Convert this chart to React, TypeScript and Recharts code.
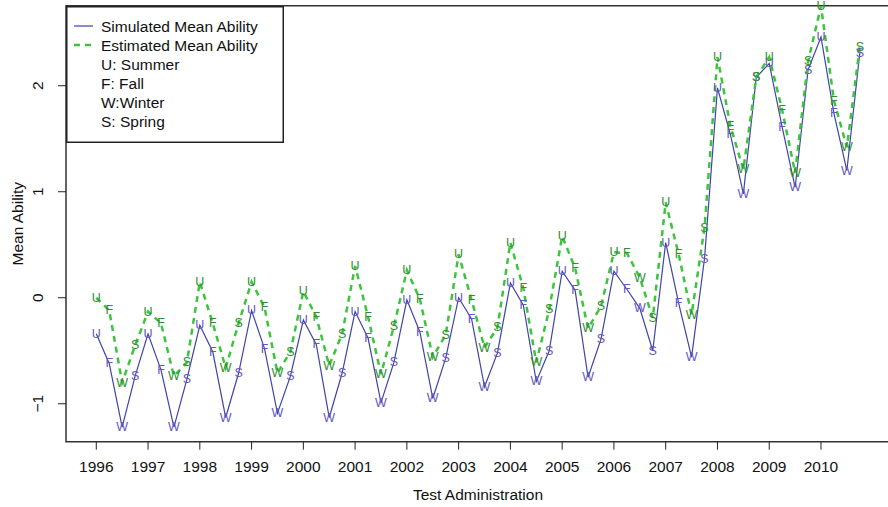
import { LineChart, Line, XAxis, YAxis, Legend, ReferenceArea } from 'recharts'

const years = [1996, 1997, 1998, 1999, 2000, 2001, 2002, 2003, 2004, 2005, 2006, 2007, 2008, 2009, 2010]
const seasons = ['U', 'F', 'W', 'S']

// one row per year: Summer, Fall, Winter, Spring
const simulated = [
  [-0.34, -0.62, -1.22, -0.74],
  [-0.34, -0.68, -1.22, -0.77],
  [-0.26, -0.51, -1.13, -0.71],
  [-0.12, -0.48, -1.09, -0.74],
  [-0.21, -0.44, -1.13, -0.71],
  [-0.13, -0.38, -0.99, -0.61],
  [-0.02, -0.32, -0.95, -0.57],
  [0.0, -0.2, -0.84, -0.52],
  [0.14, -0.07, -0.79, -0.5],
  [0.25, 0.07, -0.75, -0.39],
  [0.25, 0.08, -0.1, -0.5],
  [0.52, -0.05, -0.56, 0.37],
  [1.98, 1.54, 0.98, 2.08],
  [2.21, 1.61, 1.04, 2.15],
  [2.46, 1.74, 1.2, 2.31],
]

const estimated = [
  [0.0, -0.12, -0.8, -0.45],
  [-0.13, -0.24, -0.74, -0.61],
  [0.15, -0.24, -0.66, -0.24],
  [0.15, -0.09, -0.71, -0.51],
  [0.06, -0.18, -0.64, -0.34],
  [0.3, -0.18, -0.72, -0.27],
  [0.26, -0.01, -0.56, -0.35],
  [0.41, -0.02, -0.47, -0.28],
  [0.52, 0.09, -0.61, -0.11],
  [0.58, 0.28, -0.29, -0.08],
  [0.43, 0.42, 0.19, -0.19],
  [0.9, 0.41, -0.16, 0.66],
  [2.27, 1.62, 1.21, 2.08],
  [2.27, 1.77, 1.18, 2.23],
  [2.75, 1.86, 1.42, 2.37],
]

const yTicks = [-1, 0, 1, 2]
const legendItems = ['Simulated Mean Ability', 'Estimated Mean Ability', 'U: Summer', 'F: Fall', 'W:Winter', 'S: Spring']

const data = years.flatMap((yr, i) =>
  seasons.map((s, q) => ({
    t: yr + q * 0.25,
    season: s,
    sim: simulated[i][q],
    est: estimated[i][q],
  }))
)

const FONT = '"Liberation Sans", Arial, Helvetica, sans-serif'
const X_DOMAIN = [1995.415, 2011.333]
const Y_DOMAIN = [-1.358, 2.755]

const blueLine = '#3e44a8'
const blueText = '#6659c0'
const greenLine = '#3cc43c'
const greenText = '#2e8f2e'

const letterDot = (color: string) => (props: any) => {
  const { cx, cy, payload, index } = props
  return (
    <text
      key={`d-${color}-${index}`}
      x={cx}
      y={cy}
      textAnchor="middle"
      dominantBaseline="central"
      fontSize={12.5}
      fontFamily={FONT}
      fill={color}
    >
      {payload.season}
    </text>
  )
}

const XTick = (props: any) => {
  const { x, y, payload } = props
  return (
    <text x={x} y={y + 15} textAnchor="middle" dominantBaseline="central" fontSize={15.5} fontFamily={FONT} fill="#111">
      {payload.value}
    </text>
  )
}

const YTick = (props: any) => {
  const { y, payload } = props
  const label = payload.value < 0 ? `\u2212${Math.abs(payload.value)}` : `${payload.value}`
  return (
    <text
      x={38}
      y={y}
      transform={`rotate(-90, 38, ${y})`}
      textAnchor="middle"
      dominantBaseline="central"
      fontSize={15.5}
      fontFamily={FONT}
      fill="#111"
    >
      {label}
    </text>
  )
}

const LegendBox = () => (
  <svg width={218} height={137} style={{ display: 'block' }}>
    <rect x={0.75} y={0.75} width={216.5} height={135.5} fill="#fff" stroke="#222" strokeWidth={1.5} />
    <line x1={8} x2={27} y1={20} y2={20} stroke={blueLine} strokeWidth={1.2} />
    <line x1={8} x2={27} y1={39} y2={39} stroke={greenLine} strokeWidth={2.5} strokeDasharray="6 5" />
    {legendItems.map((txt, i) => (
      <text key={txt} x={35} y={20 + i * 19} dominantBaseline="central" fontSize={15.5} fontFamily={FONT} fill="#111">
        {txt}
      </text>
    ))}
  </svg>
)

export default function App() {
  return (
    <div style={{ position: 'absolute', left: 0, top: 0, width: 888, height: 507, overflow: 'hidden', background: '#fff' }}>
      <LineChart width={892} height={507} data={data} margin={{ top: 5.7, right: 2, bottom: 0, left: 0 }}>
        <XAxis
          dataKey="t"
          type="number"
          domain={X_DOMAIN}
          ticks={years}
          interval={0}
          axisLine={false}
          tickSize={8}
          tickLine={{ stroke: '#222' }}
          tick={<XTick />}
          height={65.3}
          label={{ value: 'Test Administration', position: 'insideBottom', offset: 7, fontSize: 15.5, fontFamily: FONT, fill: '#111' }}
        />
        <YAxis
          type="number"
          domain={Y_DOMAIN}
          ticks={yTicks}
          interval={0}
          axisLine={false}
          tickSize={8}
          tickLine={{ stroke: '#222' }}
          tick={<YTick />}
          width={66}
          label={{
            content: () => (
              <text
                x={18}
                y={223.7}
                transform="rotate(-90, 18, 223.7)"
                textAnchor="middle"
                dominantBaseline="central"
                fontSize={15.5}
                fontFamily={FONT}
                fill="#111"
              >
                Mean Ability
              </text>
            ),
          }}
        />
        <ReferenceArea x1={X_DOMAIN[0]} x2={X_DOMAIN[1]} y1={Y_DOMAIN[0]} y2={Y_DOMAIN[1]} fill="none" stroke="#333" strokeWidth={1.5} fillOpacity={0} />
        <Line
          dataKey="sim"
          stroke={blueLine}
          strokeWidth={1.2}
          dot={letterDot(blueText)}
          activeDot={false}
          isAnimationActive={false}
        />
        <Line
          dataKey="est"
          stroke={greenLine}
          strokeWidth={2.5}
          strokeDasharray="6 5"
          dot={letterDot(greenText)}
          activeDot={false}
          isAnimationActive={false}
        />
        <Legend
          layout="vertical"
          align="center"
          verticalAlign="middle"
          content={() => <LegendBox />}
          wrapperStyle={{ position: 'absolute', left: 66, top: 6, width: 218, height: 137 }}
        />
      </LineChart>
    </div>
  )
}
